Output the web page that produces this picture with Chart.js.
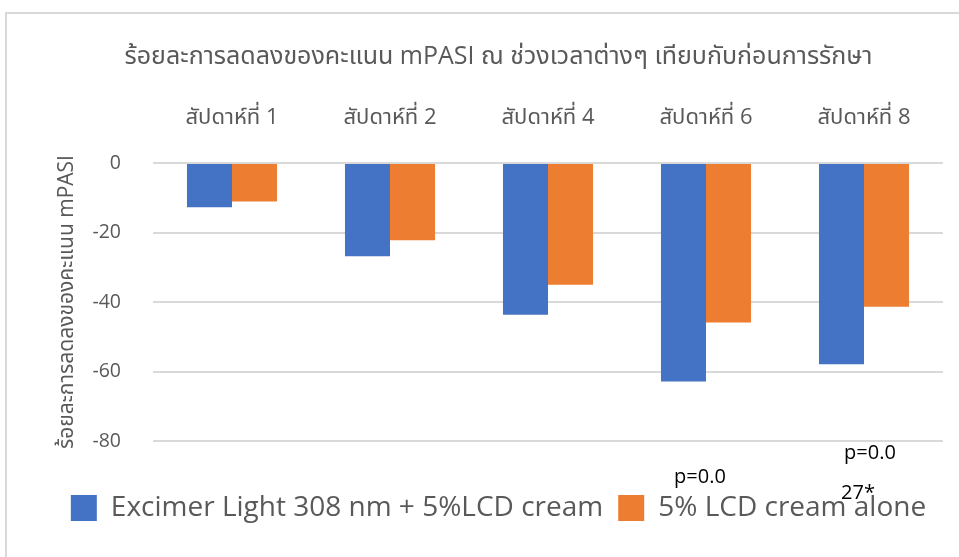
<!DOCTYPE html>
<html>
<head>
<meta charset="utf-8">
<script src="https://cdn.jsdelivr.net/npm/chart.js@4.4.1/dist/chart.umd.min.js"></script>
<style>
  html, body { margin: 0; padding: 0; background: #fff; }
  #wrap { position: absolute; left: 0; top: 0; width: 959px; height: 557px; }
</style>
</head>
<body>
<div id="wrap"><canvas id="c" width="959" height="557"></canvas></div>
<script>
const categories = ['สัปดาห์ที่ 1', 'สัปดาห์ที่ 2', 'สัปดาห์ที่ 4', 'สัปดาห์ที่ 6', 'สัปดาห์ที่ 8'];
const seriesNames = ['Excimer Light 308 nm + 5%LCD cream', '5% LCD cream alone'];
const excimerValues = [-12.7, -26.8, -43.7, -62.9, -57.9];
const lcdValues = [-11.1, -22.2, -35.0, -45.9, -41.4];
const yTicks = [0, -20, -40, -60, -80];
const chartTitle = 'ร้อยละการลดลงของคะแนน mPASI ณ ช่วงเวลาต่างๆ เทียบกับก่อนการรักษา';
const yTitle = 'ร้อยละการลดลงของคะแนน mPASI';
const pNotes = [
  { category: 'สัปดาห์ที่ 6', text: 'p=0.0', dx: -6, dy: 36 },
  { category: 'สัปดาห์ที่ 8', text: 'p=0.0', dx: 6, dy: 12 },
  { category: 'สัปดาห์ที่ 8', text: '27*', dx: -6, dy: 52 }
];

const FONT = "'Open Sans', 'Noto Sans', 'Noto Sans Thai', sans-serif";
const GRAY = '#595959';

const frame = {
  id: 'frame',
  beforeDraw(chart) {
    const ctx = chart.ctx;
    ctx.save();
    ctx.fillStyle = '#fff';
    ctx.fillRect(0, 0, chart.width, chart.height);
    ctx.strokeStyle = '#d9d9d9';
    ctx.lineWidth = 2;
    ctx.beginPath();
    ctx.moveTo(6, chart.height);
    ctx.lineTo(6, 13);
    ctx.lineTo(chart.width, 13);
    ctx.stroke();
    ctx.restore();
  }
};

const notes = {
  id: 'notes',
  afterDraw(chart) {
    const ctx = chart.ctx;
    const xs = chart.scales.x;
    const bottom = chart.chartArea.bottom;
    ctx.save();
    ctx.fillStyle = '#000';
    ctx.font = '20px ' + FONT;
    ctx.textAlign = 'center';
    ctx.textBaseline = 'middle';
    pNotes.forEach(n => {
      const x = xs.getPixelForValue(categories.indexOf(n.category)) + n.dx;
      ctx.fillText(n.text, x, bottom + n.dy);
    });
    ctx.restore();
  }
};

new Chart(document.getElementById('c'), {
  type: 'bar',
  data: {
    labels: categories,
    datasets: [
      { label: seriesNames[0], data: excimerValues, backgroundColor: '#4472C4', borderWidth: 0 },
      { label: seriesNames[1], data: lcdValues, backgroundColor: '#ED7D31', borderWidth: 0 }
    ]
  },
  options: {
    responsive: false,
    animation: false,
    devicePixelRatio: 1,
    layout: { padding: { left: 54, right: 16, top: 0, bottom: 25 } },
    datasets: { bar: { categoryPercentage: 0.57, barPercentage: 1.0 } },
    plugins: {
      title: {
        display: true,
        text: chartTitle,
        color: GRAY,
        font: { family: FONT, size: 25, weight: 'normal' },
        padding: { top: 42, bottom: 18.4 }
      },
      legend: {
        position: 'bottom',
        title: { display: true, text: '', font: { size: 10, lineHeight: 1 }, padding: { top: 28, bottom: 0 } },
        labels: {
          boxWidth: 26,
          boxHeight: 26,
          color: GRAY,
          padding: 15,
          font: { family: FONT, size: 28 }
        }
      },
      tooltip: { enabled: false }
    },
    scales: {
      x: {
        position: 'top',
        grid: { display: false, drawTicks: false },
        border: { display: false },
        ticks: { color: GRAY, font: { family: FONT, size: 22 }, padding: 32 },
        afterFit(s) { s.height = 72.6; }
      },
      y: {
        min: -80,
        max: 0,
        afterBuildTicks(s) { s.ticks = yTicks.map(v => ({ value: v })); },
        grid: { color: '#d9d9d9', lineWidth: 2, drawTicks: false },
        border: { display: false },
        ticks: { color: GRAY, font: { family: FONT, size: 19.5 }, padding: 32 },
        title: {
          display: true,
          text: yTitle,
          color: GRAY,
          font: { family: FONT, size: 21 },
          padding: { top: 0, bottom: 0 }
        },
        afterFit(s) { s.width = 99; }
      }
    }
  },
  plugins: [frame, notes]
});
</script>
</body>
</html>
